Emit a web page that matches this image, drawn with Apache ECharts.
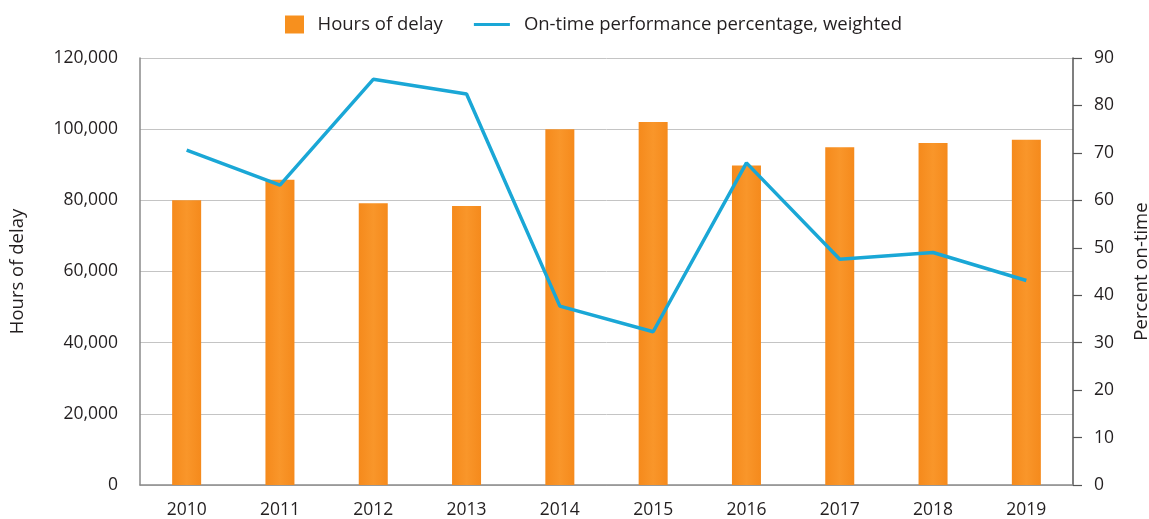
<!DOCTYPE html>
<html>
<head>
<meta charset="utf-8">
<script src="https://cdn.jsdelivr.net/npm/echarts@6/dist/echarts.min.js"></script>
<style>
  html, body { margin: 0; padding: 0; background: #fff; }
  #chart { width: 1149px; height: 519px; }
</style>
</head>
<body>
<div id="chart"></div>
<script>
// data
var years = ["2010", "2011", "2012", "2013", "2014", "2015", "2016", "2017", "2018", "2019"];
var hoursOfDelay = [80000, 85800, 79200, 78400, 100000, 102000, 89800, 94900, 96100, 97000];
var onTimePct = [70.6, 63.2, 85.5, 82.4, 37.7, 32.3, 67.9, 47.6, 49.0, 43.1];

var font = "Open Sans";
var textColor = "#231f20";

var myChart = echarts.init(document.getElementById('chart'));

var option = {
  textStyle: { fontFamily: font },
  legend: {
    top: 10,
    left: 280,
    itemGap: 31,
    itemWidth: 36,
    itemHeight: 18,
    textStyle: { fontSize: 18.5, color: textColor, fontFamily: font },
    data: [
      { name: "Hours of delay", icon: 'path://M0,0 L19,0 L19,18 L0,18 Z', itemStyle: { color: '#f7901e' } },
      { name: "On-time performance percentage, weighted", icon: 'path://M0,0 L36,0 L36,3 L0,3 Z',
        textStyle: { padding: [0, 0, 0, 9] } }
    ]
  },
  grid: {
    left: 140,
    right: 76,
    top: 58,
    bottom: 34,
    outerBoundsMode: 'none'
  },
  xAxis: {
    type: 'category',
    data: years,
    axisTick: { show: false },
    axisLine: { lineStyle: { color: '#8a8a8a', width: 1.5 } },
    axisLabel: { fontSize: 17.5, color: textColor, margin: 16 }
  },
  yAxis: [
    {
      type: 'value',
      name: "Hours of delay",
      nameLocation: 'middle',
      nameGap: 113,
      nameTextStyle: { fontSize: 18.5, color: textColor },
      min: 0,
      max: 120000,
      interval: 20000,
      axisLine: { show: true, lineStyle: { color: '#8a8a8a', width: 1.5 } },
      axisTick: { show: false },
      axisLabel: {
        fontSize: 17.5,
        color: textColor,
        margin: 22,
        formatter: function (v) { return v.toLocaleString('en-US'); }
      },
      splitLine: { lineStyle: { color: '#c4c4c4', width: 1 } }
    },
    {
      type: 'value',
      name: "Percent on-time",
      nameLocation: 'middle',
      nameGap: 59,
      nameRotate: 90,
      nameTextStyle: { fontSize: 18.5, color: textColor },
      min: 0,
      max: 90,
      interval: 10,
      position: 'right',
      axisLine: { show: true, lineStyle: { color: '#555555', width: 1.5 } },
      axisTick: { show: true, inside: false, length: 9, lineStyle: { color: '#555555', width: 1.2 } },
      axisLabel: { fontSize: 17.5, color: textColor, margin: 21 },
      splitLine: { show: false }
    }
  ],
  series: [
    {
      name: "Hours of delay",
      type: 'bar',
      yAxisIndex: 0,
      barWidth: 29,
      data: hoursOfDelay,
      itemStyle: {
        color: new echarts.graphic.LinearGradient(0, 0, 1, 0, [
          { offset: 0, color: '#f58a1c' },
          { offset: 0.5, color: '#f9962a' },
          { offset: 1, color: '#f58a1c' }
        ])
      }
    },
    {
      name: "On-time performance percentage, weighted",
      type: 'line',
      yAxisIndex: 1,
      data: onTimePct,
      symbol: 'none',
      color: '#1aa7d6',
      lineStyle: { color: '#1aa7d6', width: 3.5 }
    }
  ]
};

myChart.setOption(option);
</script>
</body>
</html>
